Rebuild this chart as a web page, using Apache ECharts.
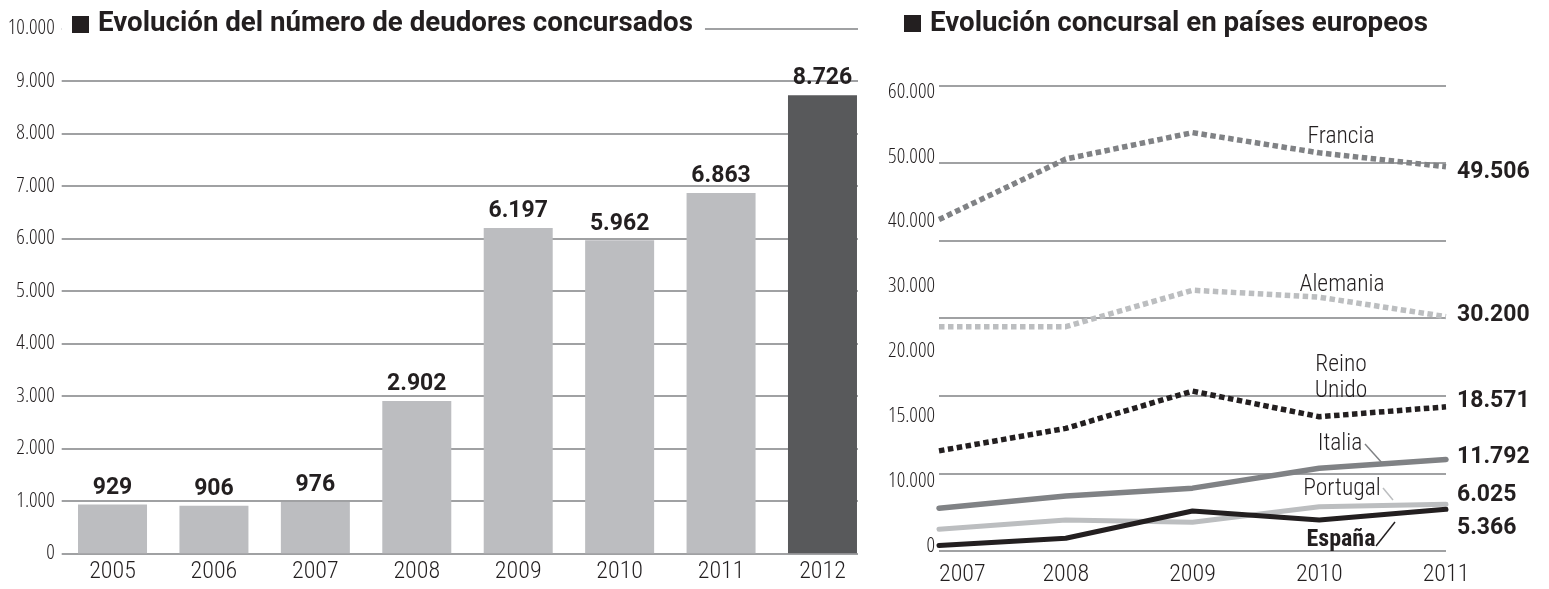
<!DOCTYPE html>
<html>
<head>
<meta charset="utf-8">
<script src="https://cdn.jsdelivr.net/npm/echarts@6/dist/echarts.min.js"></script>
<style>
html,body{margin:0;padding:0;background:#fff;}
#c{width:1549px;height:589px;}
</style>
</head>
<body>
<div id="c"></div>
<script>
// ---- data ----
const barYears = ['2005', '2006', '2007', '2008', '2009', '2010', '2011', '2012'];
const deudores = [929, 906, 976, 2902, 6197, 5962, 6863, 8726];

const lineYears = ['2007', '2008', '2009', '2010', '2011'];
const francia    = [42700, 50500, 53900, 51300, 49506];
const alemania   = [28900, 28900, 33600, 32700, 30200];
const reinoUnido = [12900, 15800, 20600, 17300, 18571];
const italia     = [5500, 7100, 8100, 10650, 11792];
const portugal   = [2800, 4000, 3700, 5700, 6025];
const espana     = [700, 1650, 5150, 4000, 5366];

const rightTickLabels = ['0', '10.000', '15.000', '20.000', '30.000', '40.000', '50.000', '60.000'];

const leftTitle = 'Evolución del número de deudores concursados';
const rightTitle = 'Evolución concursal en países europeos';

// ---- styles ----
const COND = "'Roboto Condensed', Roboto, sans-serif";
const TICKFONT = "'Open Sans', 'Roboto Condensed', sans-serif";
const BOLD = "Roboto, 'Liberation Sans', sans-serif";
const INK = '#231f20';
const TICK = '#231f20';
const GRID = '#808285';
const LIGHT = '#bcbec0';
const MID = '#808285';
const DARKBAR = '#58595b';

function fmt(v) {
  return String(v).replace(/\B(?=(\d{3})+(?!\d))/g, '.');
}

const tickText = {fontStyle: 'condensed', fontWeight: 300, fontFamily: TICKFONT, fontSize: 21, color: TICK};
const yearText = {fontWeight: 300, fontFamily: COND, fontSize: 24, color: TICK};

const chart = echarts.init(document.getElementById('c'), null, {renderer: 'canvas'});

function lineSeries(name, data, color, dotted, width, endDy) {
  return {
    name: name,
    type: 'line',
    xAxisIndex: 2,
    yAxisIndex: 2,
    data: data,
    symbol: 'none',
    silent: true,
    z: dotted ? 3 : 4,
    lineStyle: {
      color: color,
      width: width,
      type: dotted ? [5.5, 3.5] : 'solid',
      cap: dotted ? 'butt' : 'round',
      join: 'round'
    },
    endLabel: {
      show: true,
      formatter: p => fmt(p.value),
      distance: 11,
      offset: [0, endDy],
      color: INK,
      fontFamily: BOLD,
      fontWeight: 'bold',
      fontSize: 23
    }
  };
}

function note(text, x, y, bold) {
  return {
    type: 'text', z: 100,
    style: {
      text: text, x: x, y: y, align: 'center', verticalAlign: 'middle', lineHeight: 26,
      fontFamily: COND, fontWeight: bold ? 'bold' : 300, fontSize: bold ? 24 : 23.5,
      fill: INK
    }
  };
}

const option = {
  backgroundColor: '#ffffff',
  animation: false,
  title: [
    {
      text: leftTitle,
      left: 62,
      top: 7,
      padding: [3, 12, 3, 36],
      backgroundColor: '#ffffff',
      textStyle: {fontFamily: BOLD, fontWeight: 'bold', fontSize: 27.7, color: INK}
    },
    {
      text: rightTitle,
      left: 930,
      top: 7,
      padding: [3, 0, 3, 0],
      textStyle: {fontFamily: BOLD, fontWeight: 'bold', fontSize: 27.7, color: INK}
    }
  ],
  graphic: [
    {type: 'rect', shape: {x: 72, y: 16, width: 17, height: 17}, style: {fill: INK}, z: 100},
    {type: 'rect', shape: {x: 904, y: 15, width: 17, height: 17}, style: {fill: INK}, z: 100},
    note('Francia', 1341, 137),
    note('Alemania', 1342, 285),
    note('Reino\nUnido', 1341, 378),
    note('Italia', 1340, 444),
    note('Portugal', 1342, 489),
    note('España', 1341, 540, true),
    {type: 'line', z: 100, shape: {x1: 1365, y1: 444, x2: 1383, y2: 464}, style: {stroke: MID, lineWidth: 1.5}},
    {type: 'line', z: 100, shape: {x1: 1383, y1: 488, x2: 1393, y2: 500}, style: {stroke: LIGHT, lineWidth: 1.5}},
    {type: 'line', z: 100, shape: {x1: 1376, y1: 546, x2: 1395, y2: 522}, style: {stroke: INK, lineWidth: 1.5}}
  ],
  grid: [
    {left: 61.7, width: 796.3, top: 28.3, height: 525},
    {left: 61.8, width: 811.4, top: 28.3, height: 525},
    {left: 939, width: 507, top: 85.3, height: 465.7},
    {left: 939, width: 507, top: 91.7, height: 454}
  ],
  xAxis: [
    {gridIndex: 0, type: 'category', data: barYears, show: false},
    {
      gridIndex: 1, type: 'category', data: barYears,
      axisLine: {show: false}, axisTick: {show: false},
      axisLabel: Object.assign({margin: 7}, yearText)
    },
    {
      gridIndex: 2, type: 'category', data: lineYears, boundaryGap: false,
      axisLine: {show: false}, axisTick: {show: false},
      axisLabel: Object.assign({margin: 12, alignMinLabel: 'left'}, yearText)
    },
    {gridIndex: 3, type: 'value', show: false}
  ],
  yAxis: [
    {
      gridIndex: 0, type: 'value', min: 0, max: 10000, interval: 1000,
      axisLine: {show: false}, axisTick: {show: false},
      splitLine: {show: true, lineStyle: {color: GRID, width: 1.5}},
      axisLabel: Object.assign({margin: 7, formatter: v => fmt(v)}, tickText)
    },
    {gridIndex: 1, type: 'value', min: 0, max: 10000, show: false, splitLine: {show: false}},
    {
      gridIndex: 2, type: 'value', min: 0, max: 60000, interval: 10000,
      axisLine: {show: false}, axisTick: {show: false}, axisLabel: {show: false},
      splitLine: {show: true, lineStyle: {color: GRID, width: 1.5}}
    },
    {
      gridIndex: 3, type: 'category', data: rightTickLabels, boundaryGap: false,
      axisLine: {show: false}, axisTick: {show: false}, splitLine: {show: false},
      axisLabel: Object.assign({margin: 4}, tickText)
    }
  ],
  series: [
    {
      name: 'Deudores concursados',
      type: 'bar',
      xAxisIndex: 1,
      yAxisIndex: 1,
      barWidth: 69,
      silent: true,
      data: deudores.map((v, i) => i === deudores.length - 1
        ? {value: v, itemStyle: {color: DARKBAR}}
        : {value: v, itemStyle: {color: '#bcbdc0'}}),
      label: {
        show: true, position: 'top', distance: 5,
        formatter: p => fmt(p.value),
        fontFamily: BOLD, fontWeight: 'bold', fontSize: 23, color: INK
      }
    },
    lineSeries('Francia', francia, MID, true, 5.5, 5),
    lineSeries('Alemania', alemania, LIGHT, true, 5.5, -1.6),
    lineSeries('Reino Unido', reinoUnido, INK, true, 5.5, -5.2),
    lineSeries('Italia', italia, MID, false, 5.5, -2.2),
    lineSeries('Portugal', portugal, LIGHT, false, 5, -9.2),
    lineSeries('España', espana, INK, false, 5, 19)
  ]
};

chart.setOption(option);
</script>
</body>
</html>
